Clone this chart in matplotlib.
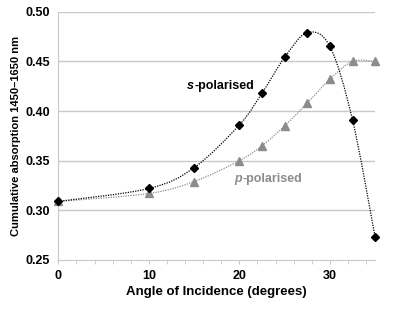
import matplotlib.pyplot as plt
from matplotlib.path import Path
from matplotlib.patches import PathPatch

plt.rcParams['font.family'] = ['Liberation Sans', 'DejaVu Sans']

# data
angles = [0, 10, 15, 20, 22.5, 25, 27.5, 30, 32.5, 35]
s_pol = [0.309, 0.322, 0.343, 0.386, 0.418, 0.454, 0.479, 0.465, 0.391, 0.273]
p_pol = [0.309, 0.317, 0.329, 0.350, 0.365, 0.385, 0.408, 0.432, 0.450, 0.450]
y_ticks = [0.25, 0.30, 0.35, 0.40, 0.45, 0.50]
x_ticks = [0, 10, 20, 30]

grey = '#8c8c8c'


def smooth_path(xs, ys):
    # Excel-style smoothed line: Catmull-Rom segments as cubic Beziers
    pts = list(zip(xs, ys))
    verts = [pts[0]]
    codes = [Path.MOVETO]
    n = len(pts)
    for i in range(n - 1):
        p0 = pts[max(i - 1, 0)]
        p1 = pts[i]
        p2 = pts[i + 1]
        p3 = pts[min(i + 2, n - 1)]
        c1 = (p1[0] + (p2[0] - p0[0]) / 6, p1[1] + (p2[1] - p0[1]) / 6)
        c2 = (p2[0] - (p3[0] - p1[0]) / 6, p2[1] - (p3[1] - p1[1]) / 6)
        verts += [c1, c2, p2]
        codes += [Path.CURVE4] * 3
    return Path(verts, codes)


def pol_label(ax, x, y, letter, color):
    # italic bold letter followed by bold "-polarised"
    t = ax.text(x, y, '-polarised', ha='left', va='center', fontsize=9,
                fontweight='bold', color=color)
    ax.annotate(letter, xy=(0, 0.5), xycoords=t, ha='right', va='center',
                fontsize=9, fontweight='bold', style='italic', color=color)


fig = plt.figure(figsize=(4.15, 3.09), dpi=100)
ax = fig.add_axes([0.1405, 0.1586, 0.7635, 0.8034])

ax.set_xlim(0, 35)
ax.set_ylim(0.25, 0.50)

for y in y_ticks[1:]:
    ax.axhline(y, color='#c8c8c8', lw=1, zorder=0)

ax.add_patch(PathPatch(smooth_path(angles, p_pol), fill=False, edgecolor=grey,
                       lw=0.9, linestyle=(0, (1, 1)), zorder=2))
ax.add_patch(PathPatch(smooth_path(angles, s_pol), fill=False, edgecolor='black',
                       lw=0.9, linestyle=(0, (1, 1)), zorder=3))

ax.plot(angles, p_pol, linestyle='none', marker='^', ms=6, color=grey,
        clip_on=False, zorder=4)
ax.plot(angles, s_pol, linestyle='none', marker='D', ms=4.4, color='black',
        clip_on=False, zorder=5)

pol_label(ax, 15.0, 0.4255, 's', 'black')
pol_label(ax, 20.3, 0.3315, 'p', grey)

ax.set_yticks(y_ticks)
ax.set_yticklabels([f'{v:.2f}' for v in y_ticks])
ax.set_xticks(x_ticks)
ax.set_xticks(range(0, 36, 2), minor=True)
ax.tick_params(axis='y', length=0, labelsize=9, pad=6)
ax.tick_params(axis='x', which='both', length=3, color='#c8c8c8',
               labelsize=9, pad=4)
for lab in ax.get_xticklabels() + ax.get_yticklabels():
    lab.set_fontweight('bold')

for side in ['top', 'right']:
    ax.spines[side].set_visible(False)
ax.spines['left'].set_color('#c8c8c8')
ax.spines['bottom'].set_color('#c8c8c8')

ax.set_xlabel('Angle of Incidence (degrees)', fontsize=9.5, fontweight='bold',
              labelpad=3)
ax.set_ylabel('Cumulative absorption 1450\u20131650 nm', fontsize=8,
              fontweight='bold', labelpad=3)

fig.savefig('out.png', dpi=100)
